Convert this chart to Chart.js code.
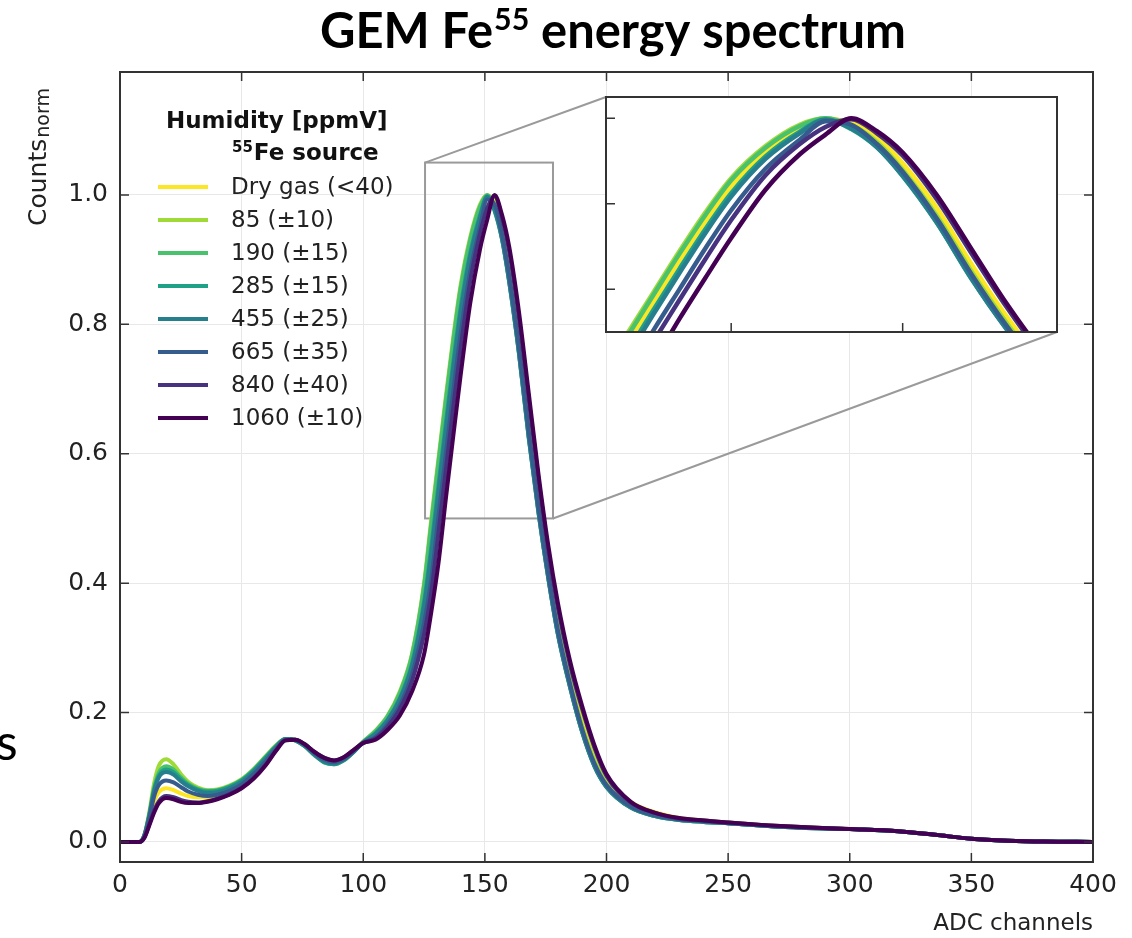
<!DOCTYPE html>
<html>
<head>
<meta charset="utf-8">
<script src="https://cdn.jsdelivr.net/npm/chart.js@4.4.1/dist/chart.umd.min.js"></script>
<style>
    html, body { margin:0; padding:0; background:#fff; }
    #wrap { position:relative; width:1132px; height:938px; overflow:hidden; }
    #main { position:absolute; left:0; top:0; }
    #inset { position:absolute; left:603px; top:94px; }
</style>
</head>
<body>
<div id="wrap">
    <canvas id="main" width="1132" height="938"></canvas>
    <canvas id="inset" width="457" height="241"></canvas>
</div>
<script>
const adc = [0, 5, 8, 10, 12, 14, 16, 19, 22, 25,
    28, 32, 36, 40, 45, 50, 55, 60, 64, 68,
    72, 76, 80, 84, 88, 92, 96, 100, 105, 110,
    115, 120, 125, 128, 131, 134, 137, 140, 144, 148,
    151, 154, 157, 160, 164, 168, 172, 176, 180, 185,
    190, 195, 200, 210, 220, 230, 240, 250, 265, 280,
    300, 320, 335, 350, 365, 380, 400];

const dryGas = [0, 0, 0, .008, .035, .062, .077, .083, .080, .075,
    .071, .069, .069, .072, .078, .088, .104, .125, .143, .158,
    .158, .150, .138, .128, .124, .129, .141, .154, .170, .192,
    .227, .282, .385, .477, .573, .668, .759, .841, .922, .976,
    .998, .990, .955, .895, .790, .660, .540, .435, .345, .262,
    .195, .140, .100, .062, .046, .037, .033, .030, .026, .023,
    .020, .0165, .011, .005, .002, .0005, 0];
const h85 = [0, 0, 0, .010, .045, .090, .118, .128, .120, .105,
    .093, .084, .080, .081, .087, .097, .113, .133, .149, .159,
    .158, .149, .136, .125, .121, .127, .140, .155, .172, .195,
    .232, .290, .400, .500, .595, .690, .780, .860, .935, .985,
    1.0, .985, .945, .880, .772, .643, .525, .422, .333, .250,
    .180, .127, .090, .056, .042, .035, .032, .029, .025, .022,
    .020, .0165, .011, .005, .002, .0005, 0];
const h190 = [0, 0, 0, .010, .042, .083, .107, .117, .112, .100,
    .090, .082, .079, .080, .086, .096, .112, .132, .148, .159,
    .157, .148, .134, .123, .120, .126, .139, .155, .171, .194,
    .230, .288, .396, .493, .589, .684, .774, .855, .931, .982,
    1.0, .980, .935, .868, .757, .628, .512, .410, .322, .240,
    .170, .118, .085, .053, .040, .034, .031, .029, .025, .022,
    .020, .0165, .011, .005, .002, .0005, 0];
const h285 = [0, 0, 0, .010, .040, .080, .103, .112, .108, .097,
    .088, .081, .078, .079, .085, .095, .111, .131, .147, .159,
    .157, .148, .134, .123, .120, .126, .139, .154, .168, .189,
    .222, .275, .371, .457, .554, .649, .741, .825, .911, .969,
    .998, .975, .932, .865, .755, .625, .510, .410, .322, .240,
    .170, .118, .085, .053, .040, .034, .031, .029, .025, .022,
    .020, .0165, .011, .005, .002, .0005, 0];
const h455 = [0, 0, 0, .010, .040, .078, .100, .108, .104, .094,
    .086, .079, .076, .077, .083, .093, .109, .129, .146, .159,
    .157, .148, .135, .124, .121, .127, .139, .154, .167, .188,
    .220, .271, .365, .447, .544, .639, .732, .817, .905, .965,
    .997, .977, .933, .866, .756, .626, .510, .409, .321, .239,
    .170, .117, .085, .053, .040, .034, .031, .029, .025, .022,
    .020, .0165, .011, .005, .002, .0005, 0];
const h665 = [0, 0, 0, .009, .036, .070, .088, .095, .092, .085,
    .078, .073, .071, .073, .079, .089, .105, .125, .143, .158,
    .158, .150, .137, .127, .123, .128, .140, .153, .162, .182,
    .211, .258, .338, .407, .506, .601, .696, .785, .882, .950,
    .993, .985, .940, .875, .765, .636, .518, .416, .328, .245,
    .175, .122, .088, .055, .041, .035, .032, .029, .025, .022,
    .020, .0165, .011, .005, .002, .0005, 0];
const h840 = [0, 0, 0, .007, .027, .048, .063, .071, .069, .065,
    .062, .061, .063, .067, .074, .084, .099, .120, .141, .157,
    .158, .151, .139, .130, .126, .131, .142, .153, .160, .178,
    .205, .248, .321, .387, .480, .576, .671, .762, .867, .940,
    .980, .998, .965, .913, .810, .685, .562, .452, .362, .274,
    .205, .146, .102, .061, .045, .036, .033, .030, .026, .023,
    .020, .0165, .011, .005, .002, .0005, 0];
const h1060 = [0, 0, 0, .006, .025, .045, .060, .068, .066, .062,
    .060, .060, .062, .066, .073, .083, .098, .119, .140, .157,
    .158, .151, .139, .130, .126, .131, .142, .153, .158, .173,
    .195, .232, .290, .356, .433, .532, .627, .720, .833, .916,
    .962, 1.0, .970, .920, .820, .695, .570, .460, .370, .280,
    .210, .150, .105, .062, .045, .037, .033, .030, .026, .023,
    .020, .0165, .011, .005, .002, .0005, 0];

const allSeries = [dryGas, h85, h190, h285, h455, h665, h840, h1060];
const seriesNames = ["Dry gas (<40)", "85 (\u00b110)", "190 (\u00b115)", "285 (\u00b115)",
    "455 (\u00b125)", "665 (\u00b135)", "840 (\u00b140)", "1060 (\u00b110)"];
const seriesColors = ["#fde725", "#a0da39", "#4ac16d", "#1fa187",
    "#277f8e", "#365c8d", "#46327e", "#440154"];

const xTicks = [0, 50, 100, 150, 200, 250, 300, 350, 400];
const yTicks = [0.0, 0.2, 0.4, 0.6, 0.8, 1.0];
const insetXTicks = [140, 160];
const insetYTicks = [0.6, 0.8, 1.0];
const zoomX = [125.4, 178];
const zoomY = [0.5, 1.05];

const tickFont = "DejaVu Sans";

function makeSets(width)
{
    let sets = [];
    for (let i = 0; i < allSeries.length; i++)
    {
        sets.push({
            label: seriesNames[i],
            data: adc.map((x, j) => ({x: x, y: allSeries[i][j]})),
            borderColor: seriesColors[i],
            borderWidth: width,
            pointRadius: 0,
            fill: false,
            cubicInterpolationMode: "monotone",
            order: allSeries.length - i
        });
    }
    return sets;
}

function drawFrameAndTicks(chart, xs, ys, len, allSides)
{
    let ctx = chart.ctx;
    let a = chart.chartArea;
    let sx = chart.scales.x;
    let sy = chart.scales.y;
    ctx.save();
    ctx.strokeStyle = "#333";
    ctx.lineWidth = 1.5;
    ctx.beginPath();
    xs.forEach(v =>
    {
        let p = sx.getPixelForValue(v);
        ctx.moveTo(p, a.bottom);
        ctx.lineTo(p, a.bottom - len);
        if (allSides)
        {
            ctx.moveTo(p, a.top);
            ctx.lineTo(p, a.top + len);
        }
    });
    ys.forEach(v =>
    {
        let p = sy.getPixelForValue(v);
        ctx.moveTo(a.left, p);
        ctx.lineTo(a.left + len, p);
        if (allSides)
        {
            ctx.moveTo(a.right, p);
            ctx.lineTo(a.right - len, p);
        }
    });
    ctx.stroke();
    ctx.lineWidth = 2;
    ctx.strokeRect(a.left, a.top, a.right - a.left, a.bottom - a.top);
    ctx.restore();
}

// inset chart (zoom on the main peak)
let insetCanvas = document.getElementById("inset");
let insetChart = new Chart(insetCanvas, {
    type: "line",
    data: {datasets: makeSets(4.5)},
    options: {
        responsive: false,
        animation: false,
        layout: {padding: 3},
        plugins: {legend: {display: false}, tooltip: {enabled: false}},
        scales: {
            x: {type: "linear", min: zoomX[0], max: zoomX[1], display: false},
            y: {min: zoomY[0], max: zoomY[1], display: false}
        }
    },
    plugins: [{
        id: "insetFrame",
        beforeDatasetsDraw(chart)
        {
            let a = chart.chartArea;
            chart.ctx.save();
            chart.ctx.fillStyle = "#fff";
            chart.ctx.fillRect(a.left, a.top, a.right - a.left, a.bottom - a.top);
            chart.ctx.restore();
        },
        afterDatasetsDraw(chart)
        {
            drawFrameAndTicks(chart, insetXTicks, insetYTicks, 9, false);
        }
    }]
});

let mainChart = new Chart(document.getElementById("main"), {
    type: "line",
    data: {datasets: makeSets(4)},
    options: {
        responsive: false,
        animation: false,
        layout: {padding: {left: 20, right: 39, top: 72, bottom: 26}},
        plugins: {legend: {display: false}, tooltip: {enabled: false}},
        scales: {
            x: {
                type: "linear",
                min: 0,
                max: 400,
                afterBuildTicks: s => { s.ticks = xTicks.map(v => ({value: v})); },
                afterFit: s => { s.height = 50; },
                ticks: {font: {family: tickFont, size: 25}, color: "#222", padding: 8, maxRotation: 0,
                    callback: v => String(v)},
                grid: {color: "#e8e8e8", lineWidth: 1, drawTicks: false},
                border: {display: false}
            },
            y: {
                min: -0.031,
                max: 1.19,
                afterBuildTicks: s => { s.ticks = yTicks.map(v => ({value: v})); },
                afterFit: s => { s.width = 100; },
                ticks: {font: {family: tickFont, size: 25}, color: "#222", padding: 12,
                    callback: v => v.toFixed(1)},
                grid: {color: "#e8e8e8", lineWidth: 1, drawTicks: false},
                border: {display: false}
            }
        }
    },
    plugins: [{
        id: "zoomMarks",
        beforeDatasetsDraw(chart)
        {
            let ctx = chart.ctx;
            let sx = chart.scales.x;
            let sy = chart.scales.y;
            let x0 = sx.getPixelForValue(zoomX[0]);
            let x1 = sx.getPixelForValue(zoomX[1]);
            let y0 = sy.getPixelForValue(zoomY[1]);
            let y1 = sy.getPixelForValue(zoomY[0]);
            let ia = insetChart.chartArea;
            let ox = insetCanvas.offsetLeft;
            let oy = insetCanvas.offsetTop;
            ctx.save();
            ctx.strokeStyle = "#9a9a9a";
            ctx.lineWidth = 2;
            ctx.strokeRect(x0, y0, x1 - x0, y1 - y0);
            ctx.beginPath();
            ctx.moveTo(x0, y0);
            ctx.lineTo(ox + ia.left, oy + ia.top);
            ctx.moveTo(x1, y1);
            ctx.lineTo(ox + ia.right, oy + ia.bottom);
            ctx.stroke();
            ctx.restore();
        },
        afterDatasetsDraw(chart)
        {
            drawFrameAndTicks(chart, xTicks, yTicks, 9, true);
        },
        afterDraw(chart)
        {
            let ctx = chart.ctx;
            ctx.save();
            ctx.fillStyle = "#000";

            // title with superscript
            let size = 42;
            ctx.font = "bold " + size + "px Lato";
            let w1 = ctx.measureText("GEM Fe").width;
            let w3 = ctx.measureText(" energy spectrum").width;
            ctx.font = "bold " + Math.round(size * 0.62) + "px Lato";
            let w2 = ctx.measureText("55").width;
            let scale = 585 / (w1 + w2 + w3);
            size = size * scale;
            let tx = 320;
            ctx.textBaseline = "alphabetic";
            ctx.font = "bold " + size + "px Lato";
            ctx.fillText("GEM Fe", tx, 48);
            tx += ctx.measureText("GEM Fe").width;
            ctx.font = "bold " + (size * 0.62) + "px Lato";
            ctx.fillText("55", tx + 1, 48 - size * 0.36);
            tx += ctx.measureText("55").width + 1;
            ctx.font = "bold " + size + "px Lato";
            ctx.fillText(" energy spectrum", tx, 48);

            // axis labels
            ctx.fillStyle = "#222";
            ctx.font = "23px " + tickFont;
            ctx.textAlign = "right";
            ctx.fillText("ADC channels", chart.chartArea.right, 930);

            ctx.save();
            ctx.translate(46, 226);
            ctx.rotate(-Math.PI / 2);
            ctx.textAlign = "left";
            ctx.font = "25px " + tickFont;
            ctx.fillText("Counts", 0, 0);
            let cw = ctx.measureText("Counts").width;
            ctx.font = "19px " + tickFont;
            ctx.fillText("norm", cw + 1, 3);
            ctx.restore();

            // legend
            ctx.textAlign = "left";
            ctx.textBaseline = "middle";
            ctx.fillStyle = "#111";
            ctx.font = "bold 23px " + tickFont;
            ctx.fillText("Humidity [ppmV]", 166, 122);
            ctx.font = "bold 15px " + tickFont;
            ctx.fillText("55", 232, 148);
            let sw = ctx.measureText("55").width;
            ctx.font = "bold 23px " + tickFont;
            ctx.fillText("Fe source", 232 + sw + 1, 154);
            ctx.font = "23px " + tickFont;
            for (let i = 0; i < seriesNames.length; i++)
            {
                let y = 187 + i * 33;
                ctx.strokeStyle = seriesColors[i];
                ctx.lineWidth = 4;
                ctx.beginPath();
                ctx.moveTo(158, y);
                ctx.lineTo(208, y);
                ctx.stroke();
                ctx.fillStyle = "#222";
                ctx.fillText(seriesNames[i], 231, y + 1);
            }

            // cut-off letter from the slide on the left
            ctx.fillStyle = "#000";
            ctx.textBaseline = "alphabetic";
            ctx.font = "50px Lato";
            ctx.fillText("s", -4, 760);
            ctx.restore();
        }
    }]
});
</script>
</body>
</html>
